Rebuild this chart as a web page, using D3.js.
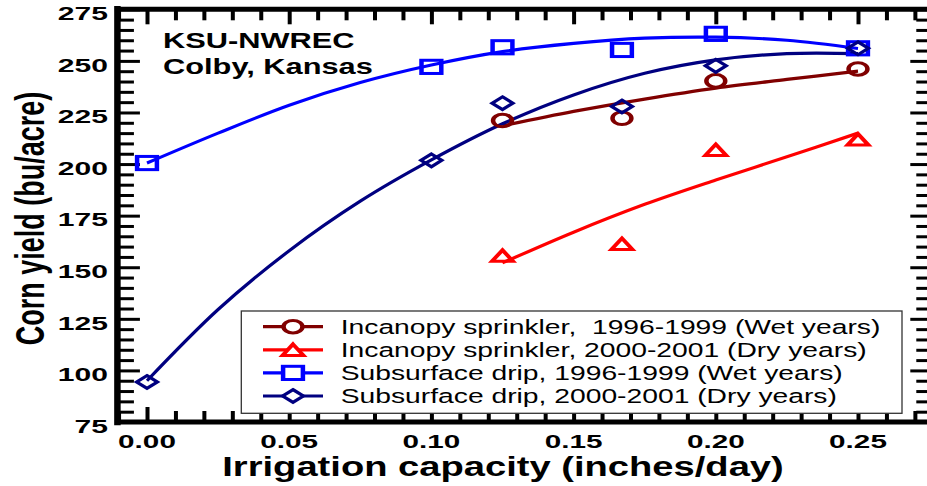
<!DOCTYPE html>
<html>
<head>
<meta charset="utf-8">
<script src="https://cdn.jsdelivr.net/npm/d3@7"></script>
<style>
  html, body { margin: 0; padding: 0; background: #fff; }
  svg { display: block; }
  text { font-family: "Liberation Sans", Arial, Helvetica, sans-serif; }
</style>
</head>
<body>
<svg id="chart" width="927" height="486"></svg>
<script>
// Irrigation capacity (inches/day) at which yields were measured
const capacity = [0, 0.1, 0.125, 0.167, 0.2, 0.25];
// Measured corn yields (bu/acre); null where a system was not tested
const sprinklerWet = [null, null, 221.1, 222.2, 240.3, 246.1];
const sprinklerDry = [null, null, 155.6, 161.3, 206.9, 211.9];
const dripWet = [200.5, 247.1, 256.6, 255.3, 263.1, 256.1];
const dripDry = [94.4, 201.8, 229.5, 227.9, 247.6, 256.1];

// Fitted response curves
const fitCapacity = [0, 0.025, 0.05, 0.075, 0.1, 0.125, 0.15, 0.175, 0.2, 0.225, 0.25];
const sprinklerWetFit = [null, null, null, null, null, 218.5, 225.5, 231.5, 236.8, 241.0, 245.0];
const sprinklerDryFit = [null, null, null, null, null, 152.1, 167.0, 180.5, 192.3, 203.5, 215.0];
const dripWetFit = [200.5, 215.0, 228.5, 239.5, 248.0, 254.5, 258.5, 261.0, 261.5, 260.0, 256.0];
const dripDryFit = [95.0, 129.5, 158.0, 182.0, 202.0, 219.5, 233.5, 244.0, 250.5, 253.5, 253.5];

const seriesNames = [
  "Incanopy sprinkler,  1996-1999 (Wet years)",
  "Incanopy sprinkler, 2000-2001 (Dry years)",
  "Subsurface drip, 1996-1999 (Wet years)",
  "Subsurface drip, 2000-2001 (Dry years)"
];
const yTickValues = [75, 100, 125, 150, 175, 200, 225, 250, 275];
const xTickValues = [0, 0.05, 0.1, 0.15, 0.2, 0.25];
const siteLines = ["KSU-NWREC", "Colby, Kansas"];
const xTitle = "Irrigation capacity (inches/day)";
const yTitle = "Corn yield (bu/acre)";

const series = [
  { name: seriesNames[0], values: sprinklerWet, fit: sprinklerWetFit, color: "#800000", shape: "circle" },
  { name: seriesNames[1], values: sprinklerDry, fit: sprinklerDryFit, color: "#ff0000", shape: "triangle" },
  { name: seriesNames[2], values: dripWet, fit: dripWetFit, color: "#0000ff", shape: "square" },
  { name: seriesNames[3], values: dripDry, fit: dripDryFit, color: "#000080", shape: "diamond" }
];

const svg = d3.select("#chart");

// Horizontal stretch applied to text and marker glyphs
const STRETCH = 1.5;

const x = d3.scaleLinear().domain([0, 0.25]).range([147, 858]);
const y = d3.scaleLinear().domain([75, 275]).range([422, 9.3]);

const frameLeft = x(-0.0104), frameRight = x(0.2763);
const frameTop = y(275), frameBottom = y(75);

// ---- Tick marks (inside-pointing on all four sides) ----
const xMinor = d3.range(-1, 28).map(i => i / 100);
const xMajor = xTickValues;
const yMinor = d3.range(75, 276, 5);
const yMajor = yTickValues;

function tickLayer(axis, transform, width) {
  const g = svg.append("g").attr("transform", transform).call(axis);
  g.select(".domain").remove();
  g.selectAll("line").attr("stroke", "#000").attr("stroke-width", width);
  g.selectAll("text").remove();
  return g;
}
tickLayer(d3.axisBottom(x).tickValues(xMinor.filter(v => !xMajor.some(m => Math.abs(m - v) < 1e-9))).tickSize(-11), `translate(0,${frameBottom})`, 4);
tickLayer(d3.axisBottom(x).tickValues(xMajor).tickSize(-15), `translate(0,${frameBottom})`, 4);
tickLayer(d3.axisTop(x).tickValues(xMinor.filter(v => !xMajor.some(m => Math.abs(m - v) < 1e-9))).tickSize(-11), `translate(0,${frameTop})`, 4);
tickLayer(d3.axisTop(x).tickValues(xMajor).tickSize(-15), `translate(0,${frameTop})`, 4);
tickLayer(d3.axisLeft(y).tickValues(yMinor.filter(v => v % 25 !== 0)).tickSize(-16.5), `translate(${frameLeft},0)`, 3);
tickLayer(d3.axisLeft(y).tickValues(yMajor).tickSize(-22.5), `translate(${frameLeft},0)`, 3);
tickLayer(d3.axisRight(y).tickValues(yMinor.filter(v => v % 25 !== 0)).tickSize(-16.5), `translate(${frameRight},0)`, 3);
tickLayer(d3.axisRight(y).tickValues(yMajor).tickSize(-22.5), `translate(${frameRight},0)`, 3);

// ---- Frame ----
const frame = svg.append("g").attr("stroke", "#000").attr("stroke-linecap", "square");
frame.append("line").attr("x1", frameLeft).attr("x2", frameRight).attr("y1", frameTop).attr("y2", frameTop).attr("stroke-width", 5);
frame.append("line").attr("x1", frameLeft).attr("x2", frameRight).attr("y1", frameBottom).attr("y2", frameBottom).attr("stroke-width", 5);
frame.append("line").attr("x1", frameLeft).attr("x2", frameLeft).attr("y1", frameTop).attr("y2", frameBottom).attr("stroke-width", 6.5);
frame.append("line").attr("x1", frameRight).attr("x2", frameRight).attr("y1", frameTop).attr("y2", frameBottom).attr("stroke-width", 6.5);

// ---- Stretched text helper ----
function stretchedText(parent, px, py, str, opts) {
  const g = parent.append("g")
    .attr("transform", `translate(${px},${py}) scale(${opts.sx},1)`);
  return g.append("text")
    .attr("x", 0).attr("y", 0)
    .attr("text-anchor", opts.anchor || "start")
    .attr("font-size", opts.size)
    .attr("font-weight", opts.weight || "normal")
    .attr("fill", opts.fill || "#000")
    .style("white-space", "pre")
    .text(str);
}

// Tick labels
const fmt = d3.format(".2f");
yTickValues.forEach(v => {
  stretchedText(svg, 108, y(v) + 10.7, String(v), { sx: 1.72, size: 17.5, weight: "bold", anchor: "end" });
});
xTickValues.forEach(v => {
  stretchedText(svg, x(v), 448, fmt(v), { sx: 1.65, size: 18, weight: "bold", anchor: "middle" });
});

// Axis titles
stretchedText(svg, 503, 476, xTitle, { sx: 1.413, size: 27, weight: "bold", anchor: "middle" });
svg.append("g")
  .attr("transform", `translate(43.5,218.5) scale(1.5,1) rotate(-90)`)
  .append("text")
  .attr("text-anchor", "middle")
  .attr("font-size", 27)
  .attr("font-weight", "bold")
  .text(yTitle);

// Site label
stretchedText(svg, 163, 48.3, siteLines[0], { sx: 1.40, size: 22, weight: "bold" });
stretchedText(svg, 163, 74, siteLines[1], { sx: 1.40, size: 22, weight: "bold" });

// ---- Fitted curves ----
const line = d3.line()
  .defined(d => d[1] !== null)
  .x(d => x(d[0]))
  .y(d => y(d[1]))
  .curve(d3.curveCatmullRom.alpha(0.5));

const curves = svg.append("g").attr("fill", "none").attr("stroke-width", 3.2).attr("stroke-linecap", "butt");
series.forEach(s => {
  const pts = fitCapacity.map((c, i) => [c, s.fit[i]]).filter(d => d[1] !== null);
  curves.append("path").attr("d", line(pts)).attr("stroke", s.color);
});

// ---- Markers ----
function drawMarker(parent, cx, cy, shape, color, fill) {
  const g = parent.append("g")
    .attr("transform", `translate(${cx},${cy}) scale(${STRETCH},1)`)
    .attr("fill", fill)
    .attr("stroke", color)
    .attr("stroke-linejoin", "miter");
  if (shape === "circle") {
    g.append("circle").attr("r", 6.3).attr("stroke-width", 3);
  } else if (shape === "square") {
    g.append("rect").attr("x", -6.6).attr("y", -6.6).attr("width", 13.2).attr("height", 13.2).attr("stroke-width", 3);
  } else if (shape === "diamond") {
    g.append("path").attr("d", "M0,-6.4L6.9,0L0,6.4L-6.9,0Z").attr("stroke-width", 2.8);
  } else if (shape === "triangle") {
    g.append("path").attr("d", "M0,-5.6L7,5.6L-7,5.6Z").attr("stroke-width", 3);
  }
  return g;
}

const markers = svg.append("g");
series.forEach(s => {
  capacity.forEach((c, i) => {
    const v = s.values[i];
    if (v === null) return;
    drawMarker(markers, x(c), y(v), s.shape, s.color, "none");
  });
});

// ---- Legend ----
const legend = svg.append("g");
legend.append("rect")
  .attr("x", 241.3).attr("y", 311)
  .attr("width", 902 - 241.3).attr("height", 413.3 - 311)
  .attr("fill", "#fff")
  .attr("stroke", "#333")
  .attr("stroke-width", 1.3);

series.forEach((s, i) => {
  const ry = 326.7 + i * 23.1;
  legend.append("line")
    .attr("x1", 263).attr("x2", 323).attr("y1", ry).attr("y2", ry)
    .attr("stroke", s.color).attr("stroke-width", 3.2);
  drawMarker(legend, 293, ry, s.shape, s.color, "#fff");
  stretchedText(legend, 340.7, ry + 7, s.name, { sx: 1.45, size: 19.5 });
});
</script>
</body>
</html>
